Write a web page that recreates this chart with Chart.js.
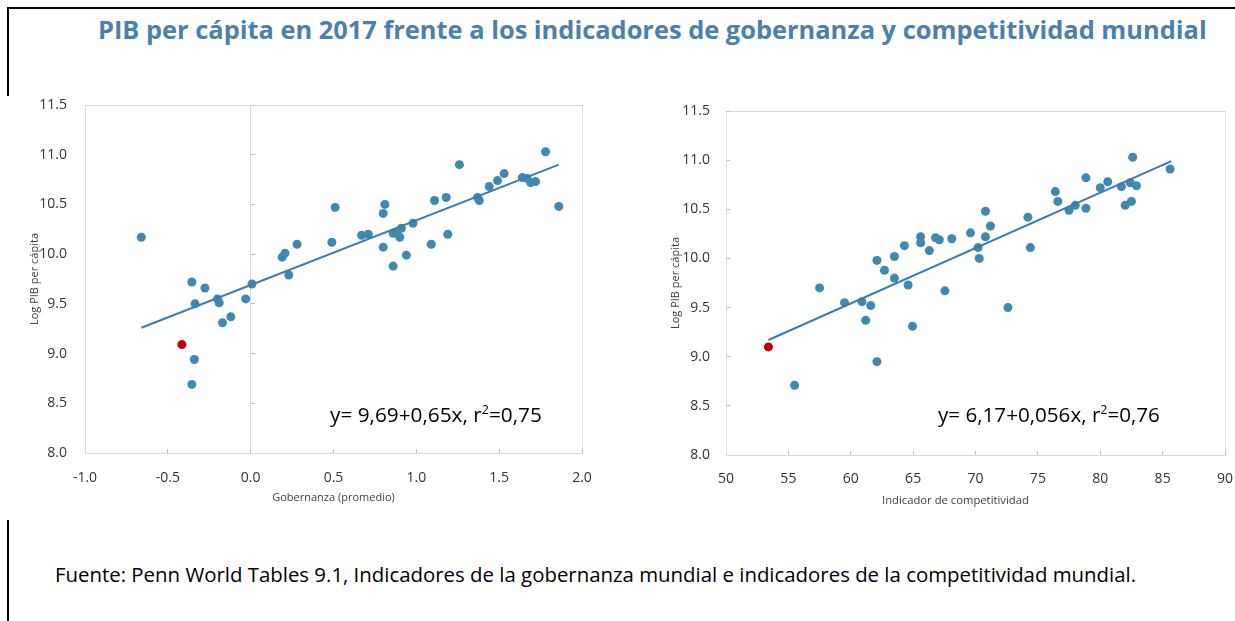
<!DOCTYPE html>
<html lang="es">
<head>
<meta charset="UTF-8">
<title>PIB per cápita 2017</title>
<script src="https://cdn.jsdelivr.net/npm/chart.js"></script>
<style>
  body { margin: 0; width: 1235px; height: 621px; background: #fff; position: relative; overflow: hidden; font-family: "Open Sans", sans-serif; }
  .txt { position: absolute; white-space: nowrap; line-height: 1; }
  .txt sup { font-size: 0.6em; line-height: 0; }
  .rule { position: absolute; background: #000; }
  canvas { position: absolute; top: 90px; }
</style>
</head>
<body>
  <div class="rule" style="left:7px;top:7px;width:1228px;height:2px"></div>
  <div class="rule" style="left:7px;top:7px;width:2px;height:89px"></div>
  <div class="rule" style="left:7px;top:520px;width:2px;height:101px"></div>

  <div id="title" class="txt" style="font-size:26px;font-weight:700;color:#4a80b0">PIB per cápita en 2017 frente a los indicadores de gobernanza y competitividad mundial</div>

  <canvas id="govChart" width="620" height="430" style="left:0"></canvas>
  <canvas id="compChart" width="615" height="430" style="left:620px"></canvas>

  <div id="eqGov" class="txt" style="font-size:20px;color:#000">y= 9,69+0,65x, r<sup>2</sup>=0,75</div>
  <div id="eqComp" class="txt" style="font-size:20px;color:#000">y= 6,17+0,056x, r<sup>2</sup>=0,76</div>
  <div id="compXTitle" class="txt" style="font-size:11px;color:#404040">Indicador de competitividad</div>

  <div id="source" class="txt" style="font-size:17px;color:#000">Fuente: Penn World Tables 9.1, Indicadores de la gobernanza mundial e indicadores de la competitividad mundial.</div>

<script>
// --- data ---
// left panel: governance (average) vs log GDP per capita
const govX = [-0.66, -0.355, -0.276, -0.336, -0.20, -0.19, -0.17, -0.12, -0.03, 0.008,
  0.19, 0.207, 0.23, 0.28, 0.49, 0.51, 0.67, 0.71, 0.80, 0.81, 0.80, 0.86, 0.86, 0.88,
  0.91, 0.90, 0.94, 0.98, 1.09, 1.11, 1.18, 1.19, 1.26, 1.37, 1.38, 1.44, 1.49, 1.53,
  1.64, 1.67, 1.69, 1.72, 1.78, 1.86, -0.34, -0.355];
const govY = [10.17, 9.72, 9.66, 9.50, 9.55, 9.51, 9.31, 9.37, 9.55, 9.70,
  9.97, 10.01, 9.79, 10.10, 10.12, 10.47, 10.19, 10.20, 10.41, 10.50, 10.07, 9.88, 10.21, 10.22,
  10.26, 10.17, 9.99, 10.31, 10.10, 10.54, 10.57, 10.20, 10.90, 10.57, 10.54, 10.68, 10.74, 10.81,
  10.77, 10.76, 10.72, 10.73, 11.03, 10.48, 8.94, 8.69];
const govRedX = [-0.415];
const govRedY = [9.09];
const govTrendX = [-0.66, 1.86];
const govTrendY = [9.26, 10.90];

// right panel: competitiveness indicator vs log GDP per capita
const compX = [55.5, 57.5, 59.5, 60.9, 61.2, 61.6, 62.1, 62.1, 62.7, 63.5, 63.5, 64.3,
  64.6, 64.95, 65.6, 65.6, 66.3, 66.8, 67.1, 67.55, 68.1, 69.6, 70.2, 70.3, 70.8, 70.8,
  71.2, 72.6, 74.2, 74.4, 76.4, 76.6, 77.5, 78.0, 78.85, 78.85, 80.0, 80.6, 81.7, 82.0,
  82.5, 82.4, 82.6, 82.9, 85.6];
const compY = [8.71, 9.70, 9.55, 9.56, 9.37, 9.52, 9.98, 8.95, 9.88, 10.02, 9.80, 10.13,
  9.73, 9.31, 10.22, 10.16, 10.08, 10.21, 10.19, 9.67, 10.20, 10.26, 10.11, 10.00, 10.48, 10.22,
  10.33, 9.50, 10.42, 10.11, 10.68, 10.58, 10.49, 10.54, 10.82, 10.51, 10.72, 10.78, 10.73, 10.54,
  10.58, 10.77, 11.03, 10.74, 10.91];
const compRedX = [53.4];
const compRedY = [9.10];
const compTrendX = [53.4, 85.7];
const compTrendY = [9.17, 10.99];

// axis ranges [min, max, step]
const govXRange = [-1, 2, 0.5];
const compXRange = [50, 90, 5];
const yRange = [8, 11.5, 0.5];

// --- styling ---
const BLUE = '#3f88b0';
const LINE = '#3b7cb0';
const RED = '#c00000';
const GRID = '#d9d9d9';
const TICK = '#bfbfbf';
const TXT = '#333333';
const FAMILY = '"Open Sans", sans-serif';

const pts = (xs, ys) => xs.map((x, i) => ({ x, y: ys[i] }));
const onlyAt = (vals) => (ctx) => (ctx.tick && vals.includes(ctx.tick.value)) ? GRID : 'rgba(0,0,0,0)';

function datasets(xs, ys, rx, ry, tx, ty) {
  return [
    { data: pts(tx, ty), showLine: true, borderColor: LINE, borderWidth: 2, pointRadius: 0, order: 0 },
    { data: pts(rx, ry), backgroundColor: RED, borderColor: RED, pointRadius: 4.5, borderWidth: 0, order: 1 },
    { data: pts(xs, ys), backgroundColor: BLUE, borderColor: BLUE, pointRadius: 4.5, borderWidth: 0, order: 2 }
  ];
}

function makeChart(id, o) {
  const scales = {
    x: {
      type: 'linear', min: o.xr[0], max: o.xr[1],
      ticks: { stepSize: o.xr[2], color: TXT, font: { family: FAMILY, size: 14 }, padding: o.xPad, callback: o.xFmt },
      grid: { color: onlyAt(o.xLines), tickColor: TICK, tickLength: -4, drawTicks: true },
      border: { display: true, color: GRID },
      title: o.xTitle ? { display: true, text: o.xTitle, color: '#404040', font: { family: FAMILY, size: 11 }, padding: { top: 0, bottom: o.xTitlePad } } : { display: false },
      afterFit: s => { s.height = o.xH; s.paddingLeft = 0; s.paddingRight = 0; }
    },
    y: {
      type: 'linear', min: yRange[0], max: yRange[1],
      ticks: { stepSize: yRange[2], color: TXT, font: { family: FAMILY, size: 14 }, padding: o.yPad, callback: v => v.toFixed(1) },
      grid: { color: onlyAt([yRange[0], yRange[1]]), tickColor: TICK, tickLength: -4, drawTicks: o.yTicks },
      border: { display: true, color: GRID },
      title: { display: true, text: 'Log PIB per cápita', color: '#404040', font: { family: FAMILY, size: 11 }, padding: { top: o.yTitlePad, bottom: 0 } },
      afterFit: s => { s.width = o.yW; s.paddingTop = 0; s.paddingBottom = 0; }
    }
  };
  if (o.zeroTicks) {
    // tick marks sitting on the x = 0 line
    scales.yz = {
      type: 'linear', axis: 'y', position: { x: 0 }, min: yRange[0], max: yRange[1],
      ticks: { stepSize: yRange[2], display: false },
      grid: { drawOnChartArea: false, tickColor: TICK, tickLength: -4 },
      border: { display: false }
    };
  }
  return new Chart(document.getElementById(id), {
    type: 'scatter',
    data: { datasets: o.data },
    options: {
      responsive: false,
      animation: false,
      layout: { padding: o.pad },
      plugins: { legend: { display: false }, tooltip: { enabled: false } },
      scales
    }
  });
}

makeChart('govChart', {
  data: datasets(govX, govY, govRedX, govRedY, govTrendX, govTrendY),
  xr: govXRange, xFmt: v => v.toFixed(1), xLines: [govXRange[0], govXRange[1], 0], xPad: 21,
  xTitle: 'Gobernanza (promedio)', xTitlePad: 16, xH: 67,
  yW: 85, yPad: 18, yTicks: false, yTitlePad: 28, zeroTicks: true,
  pad: { top: 15, right: 38, left: 0, bottom: 0 }
});

makeChart('compChart', {
  data: datasets(compX, compY, compRedX, compRedY, compTrendX, compTrendY),
  xr: compXRange, xFmt: v => String(v), xLines: [compXRange[0], compXRange[1]], xPad: 20,
  xTitle: null, xH: 65,
  yW: 106, yPad: 20, yTicks: true, yTitlePad: 49, zeroTicks: false,
  pad: { top: 21, right: 10, left: 0, bottom: 0 }
});

// --- html text placement: fit width, put baseline ---
function placeText(id, left, baseline, width) {
  const el = document.getElementById(id);
  const size = parseFloat(el.style.fontSize);
  const w = el.getBoundingClientRect().width;
  const fitted = size * width / w;
  el.style.fontSize = fitted + 'px';
  el.style.left = left + 'px';
  el.style.top = (baseline - 0.888 * fitted) + 'px';
}
placeText('title', 98, 40, 1109);
placeText('eqGov', 330, 422, 212);
placeText('eqComp', 938, 422, 222);
placeText('compXTitle', 882, 504, 147);
placeText('source', 55, 582, 1082);
</script>
</body>
</html>
